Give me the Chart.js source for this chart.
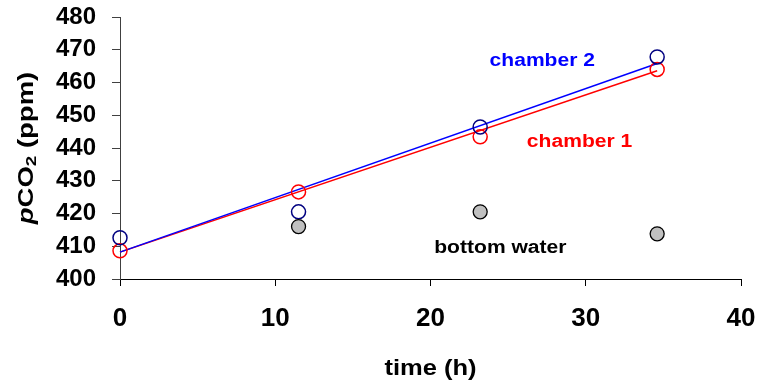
<!DOCTYPE html>
<html>
<head>
<meta charset="utf-8">
<script src="https://cdn.jsdelivr.net/npm/chart.js@4.4.1/dist/chart.umd.min.js"></script>
<style>
html,body{margin:0;padding:0;background:#fff;}
#wrap{width:758px;height:382px;position:relative;}
</style>
</head>
<body>
<div id="wrap"><canvas id="c" width="758" height="382"></canvas></div>
<script>
// ---- data ----
const times = [0, 11.5, 23.2, 34.6];
const chamber1 = [408.6, 426.6, 443.4, 464.0];
const chamber2 = [412.6, 420.5, 446.4, 467.8];
const bottomTimes = [11.5, 23.2, 34.6];
const bottomWater = [416.0, 420.5, 413.8];
// fitted lines (endpoints)
const fitTimes = [0, 34.6];
const fit1 = [408.2, 463.6];
const fit2 = [408.2, 465.8];
const xTicks = [0, 10, 20, 30, 40];
const yTicks = [400, 410, 420, 430, 440, 450, 460, 470, 480];
const labelTexts = ['chamber 2', 'chamber 1', 'bottom water'];
const labelColors = ['#0000FF', '#FF0000', '#000000'];
const labelX = [27.2, 29.6, 24.5];   // data units (h)
const labelY = [465.0, 440.4, 407.9]; // data units (ppm), baseline

const pts = (xs, ys) => xs.map((x, i) => ({x: x, y: ys[i]}));
const FONT = '"Liberation Sans", Arial, sans-serif';

function stretchedText(ctx, text, x, y, sx) {
  ctx.save();
  ctx.translate(x, y);
  ctx.scale(sx, 1);
  ctx.fillText(text, 0, 0);
  ctx.restore();
}

const textPlugin = {
  id: 'texts',
  afterDraw(chart) {
    const ctx = chart.ctx;
    const xs = chart.scales.x, ys = chart.scales.y;
    ctx.save();
    // annotations
    ctx.font = 'bold 18px ' + FONT;
    ctx.textAlign = 'center';
    ctx.textBaseline = 'alphabetic';
    labelTexts.forEach((t, i) => {
      ctx.fillStyle = labelColors[i];
      stretchedText(ctx, t, xs.getPixelForValue(labelX[i]), ys.getPixelForValue(labelY[i]), 1.17);
    });
    // x title
    ctx.fillStyle = '#000';
    ctx.font = 'bold 22px ' + FONT;
    stretchedText(ctx, 'time (h)', (chart.chartArea.left + chart.chartArea.right) / 2, 375, 1.16);
    // y title: italic p, CO, subscript 2, (ppm)
    const cy = (chart.chartArea.top + chart.chartArea.bottom) / 2;
    ctx.translate(33, cy);
    ctx.rotate(-Math.PI / 2);
    const parts = [
      {t: 'p', f: 'italic bold 22px ' + FONT, dy: 0},
      {t: 'CO', f: 'bold 22px ' + FONT, dy: 0},
      {t: '2', f: 'bold 15px ' + FONT, dy: 3},
      {t: ' (ppm)', f: 'bold 22px ' + FONT, dy: 0}
    ];
    const sx = 1.25;
    let total = 0;
    parts.forEach(p => { ctx.font = p.f; p.w = ctx.measureText(p.t).width; total += p.w; });
    ctx.scale(sx, 1);
    let x = -total / 2;
    ctx.textAlign = 'left';
    ctx.textBaseline = 'alphabetic';
    parts.forEach(p => { ctx.font = p.f; ctx.fillText(p.t, x, p.dy); x += p.w; });
    ctx.restore();
  }
};

new Chart(document.getElementById('c'), {
  type: 'scatter',
  data: {
    datasets: [
      {label: 'bottom water', data: pts(bottomTimes, bottomWater), pointRadius: 7, pointBackgroundColor: '#C0C0C0', pointBorderColor: '#000', pointBorderWidth: 1.3, showLine: false, clip: false},
      {label: 'chamber 2 pts', data: pts(times, chamber2), pointRadius: 7, pointBackgroundColor: 'rgba(0,0,0,0)', pointBorderColor: '#000080', pointBorderWidth: 1.5, showLine: false, clip: false},
      {label: 'chamber 1 pts', data: pts(times, chamber1), pointRadius: 7, pointBackgroundColor: 'rgba(0,0,0,0)', pointBorderColor: '#FF0000', pointBorderWidth: 1.5, showLine: false, clip: false},
      {label: 'chamber 2 fit', data: pts(fitTimes, fit2), showLine: true, pointRadius: 0, borderColor: '#0000FF', borderWidth: 1.5, fill: false, clip: false},
      {label: 'chamber 1 fit', data: pts(fitTimes, fit1), showLine: true, pointRadius: 0, borderColor: '#FF0000', borderWidth: 1.5, fill: false, clip: false}
    ]
  },
  options: {
    responsive: false,
    animation: false,
    devicePixelRatio: 1,
    layout: {padding: {top: 17, right: 17, left: 0, bottom: 0}},
    plugins: {legend: {display: false}, tooltip: {enabled: false}},
    scales: {
      x: {
        type: 'linear', min: 0, max: 40,
        afterBuildTicks: s => { s.ticks = xTicks.map(v => ({value: v})); },
        afterFit: s => { s.height = 103; s.paddingLeft = 0; s.paddingRight = 0; },
        ticks: {color: '#000', font: {family: FONT, size: 26, weight: 'bold'}, padding: 17, maxRotation: 0, autoSkip: false},
        grid: {drawOnChartArea: false, drawTicks: true, tickLength: 7, color: '#000', lineWidth: 1},
        border: {display: true, color: '#000', width: 1}
      },
      y: {
        type: 'linear', min: 400, max: 480,
        afterBuildTicks: s => { s.ticks = yTicks.map(v => ({value: v})); },
        afterFit: s => { s.width = 120; s.paddingTop = 0; s.paddingBottom = 0; },
        ticks: {color: '#000', font: {family: FONT, size: 24, weight: 'bold'}, padding: 16, autoSkip: false},
        grid: {drawOnChartArea: false, drawTicks: true, tickLength: 8, color: '#404040', lineWidth: 1},
        border: {display: true, color: '#404040', width: 1}
      }
    }
  },
  plugins: [textPlugin]
});
</script>
</body>
</html>
